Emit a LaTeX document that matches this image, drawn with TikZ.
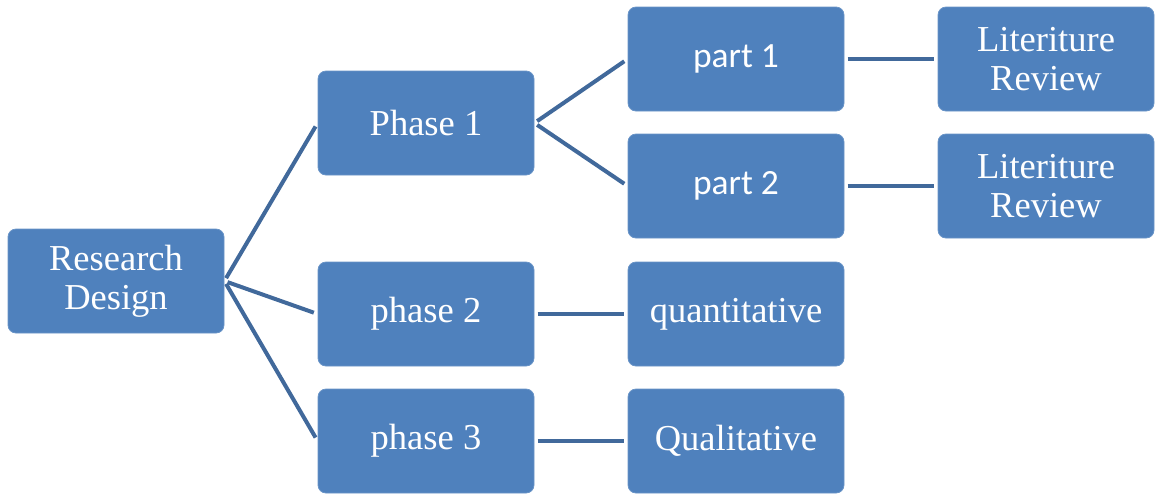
\documentclass[tikz,border=0pt]{standalone}
\usepackage{fontspec}
\setmainfont{Liberation Serif}
\newfontfamily\partfont{Carlito}
\definecolor{boxblue}{HTML}{4F81BD}
\definecolor{linkblue}{HTML}{41699B}

\tikzset{
  stagebox/.style={draw=boxblue!85!white,line width=0.6pt,fill=boxblue,rounded corners=6pt,
    minimum width=162pt,minimum height=78pt,inner sep=0pt,text=white,align=center,
    font=\fontsize{27.4}{29.5}\selectfont},
  link/.style={draw=linkblue,line width=3pt,shorten <=2.5pt,shorten >=3pt}
}

\begin{document}
\begin{tikzpicture}[x=0.75pt,y=-0.75pt]
  \useasboundingbox (0,0) rectangle (1155,494);
  % boxes
  \node[stagebox] (rd) at (116,281) {Research\\Design};
  \node[stagebox] (ph1) at (426,123) {Phase 1};
  \node[stagebox] (ph2) at (426,314) {phase 2};
  \node[stagebox] (ph3) at (426,441) {phase 3};
  \node[stagebox,font=\partfont\fontsize{26.6}{29}\selectfont] (pt1) at (736,59) {part 1};
  \node[stagebox,font=\partfont\fontsize{26.6}{29}\selectfont] (pt2) at (736,186) {part 2};
  \node[stagebox] (quan) at (736,314) {quantitative};
  \node[stagebox] (qual) at (736,441) {Qualitative};
  \node[stagebox] (lr1) at (1046,59) {Literiture\\Review};
  \node[stagebox] (lr2) at (1046,186) {Literiture\\Review};
  % links
  \foreach \t in {ph1,ph2,ph3}
    \draw[link] (rd.east) -- (\t.west);
  \foreach \t in {pt1,pt2}
    \draw[link] (ph1.east) -- (\t.west);
  \draw[link] (ph2) -- (quan);
  \draw[link] (ph3) -- (qual);
  \draw[link] (pt1) -- (lr1);
  \draw[link] (pt2) -- (lr2);
\end{tikzpicture}
\end{document}
